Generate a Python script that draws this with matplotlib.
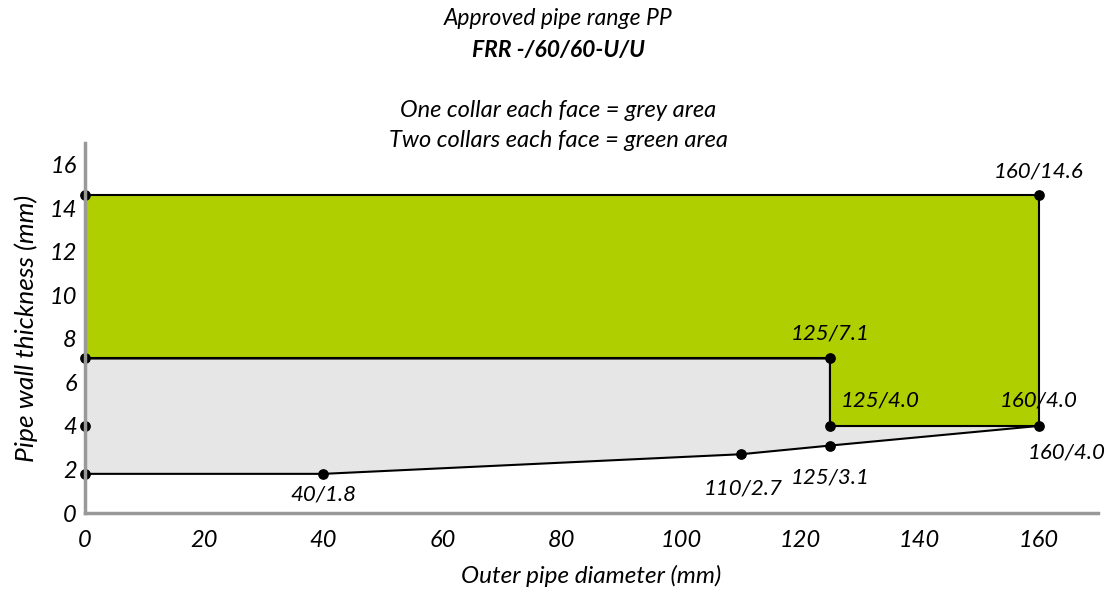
import matplotlib.pyplot as plt
from matplotlib.patches import Polygon

# boundary points (outer pipe diameter mm, wall thickness mm)
grey_x = [0, 40, 110, 125, 160, 125, 125, 0]
grey_y = [1.8, 1.8, 2.7, 3.1, 4.0, 4.0, 7.1, 7.1]
green_x = [0, 125, 125, 160, 160, 0]
green_y = [7.1, 7.1, 4.0, 4.0, 14.6, 14.6]

pts_x = [0, 0, 0, 0, 40, 110, 125, 125, 125, 160, 160]
pts_y = [14.6, 7.1, 4.0, 1.8, 1.8, 2.7, 3.1, 4.0, 7.1, 4.0, 14.6]

labels = ["160/14.6", "125/7.1", "125/4.0", "160/4.0", "160/4.0",
          "125/3.1", "110/2.7", "40/1.8"]
label_x = [160, 125, 125, 160, 160, 125, 110, 40]
label_y = [14.6, 7.1, 4.0, 4.0, 4.0, 3.1, 2.7, 1.8]
label_off = [(0, 17), (0, 18), (36, 18), (0, 18), (20, -19), (0, -23), (2, -25), (0, -15)]

x_ticks = [0, 20, 40, 60, 80, 100, 120, 140, 160]
y_ticks = [0, 2, 4, 6, 8, 10, 12, 14, 16]

plt.rcParams["font.family"] = ["Lato", "DejaVu Sans"]
plt.rcParams["font.style"] = "italic"
plt.rcParams["font.size"] = 16

fig = plt.figure(figsize=(11.06, 5.92), dpi=100)
ax = fig.add_axes([0.0769, 0.1334, 0.916, 0.625])

ax.add_patch(Polygon(list(zip(grey_x, grey_y)), closed=True,
                     facecolor="#e6e6e6", edgecolor="black", linewidth=1.5))
ax.add_patch(Polygon(list(zip(green_x, green_y)), closed=True,
                     facecolor="#afcf00", edgecolor="black", linewidth=1.5))
ax.scatter(pts_x, pts_y, s=45, color="black", zorder=3, clip_on=False)

for s, x, y, off in zip(labels, label_x, label_y, label_off):
    ax.annotate(s, (x, y), xytext=off, textcoords="offset points",
                ha="center", va="center", fontsize=16)

ax.set_xlim(0, 170)
ax.set_ylim(0, 17)
ax.set_xticks(x_ticks)
ax.set_yticks(y_ticks)
ax.tick_params(length=0, labelsize=17)
ax.tick_params(axis="x", pad=12)
ax.tick_params(axis="y", pad=6)
for side in ["top", "right"]:
    ax.spines[side].set_visible(False)
for side in ["left", "bottom"]:
    ax.spines[side].set_color("#999999")
    ax.spines[side].set_linewidth(2.5)
    ax.spines[side].set_zorder(4)

ax.set_xlabel("Outer pipe diameter (mm)", fontsize=17.5, labelpad=10)
ax.set_ylabel("Pipe wall thickness (mm)", fontsize=19, labelpad=8)

fig.text(0.505, 0.968, "Approved pipe range PP", ha="center", va="center", fontsize=16.5)
fig.text(0.505, 0.915, "FRR -/60/60-U/U", ha="center", va="center", fontsize=16.5,
         fontweight="bold")
fig.text(0.505, 0.814, "One collar each face = grey area", ha="center", va="center",
         fontsize=17)
fig.text(0.505, 0.762, "Two collars each face = green area", ha="center", va="center",
         fontsize=17)

fig.savefig("out.png", dpi=100)
